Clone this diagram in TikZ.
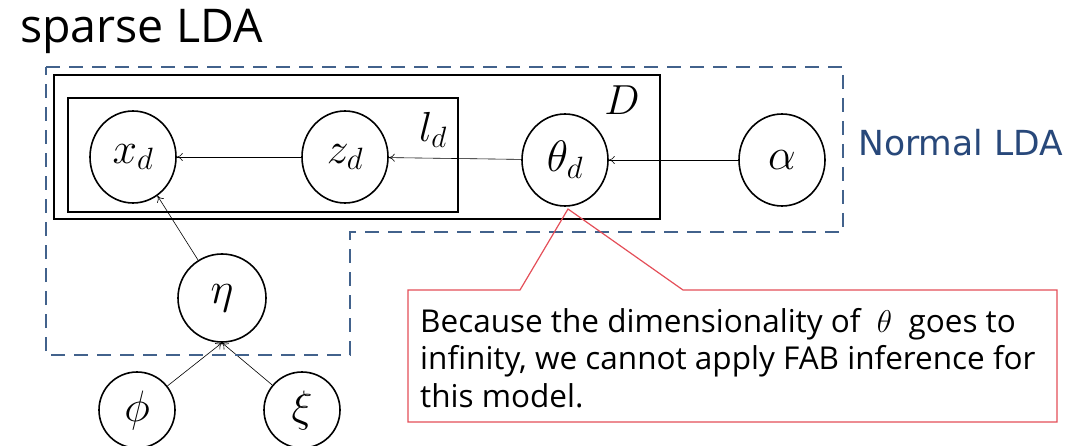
\RequirePackage{fix-cm}
\documentclass[tikz,border=0pt]{standalone}
\usepackage{fontspec}
\usepackage{amsmath}
\newfontfamily\titlefont{Open Sans}
\newfontfamily\notefont{Open Sans}
\newfontfamily\regionfont{DejaVu Sans}
\usepackage{tikz}
\usetikzlibrary{arrows.meta,shapes.geometric}
\definecolor{ldablue}{RGB}{66,98,140}
\definecolor{ldatext}{RGB}{40,72,122}
\definecolor{notered}{RGB}{228,78,88}
\tikzset{
  var/.style={draw,ellipse,line width=1.6pt,minimum width=86pt,minimum height=92pt,inner sep=0pt,font=\fontsize{44}{52}\selectfont},
  smallvar/.style={var,minimum width=76pt,minimum height=76pt},
  plate/.style={draw,line width=1.8pt},
  edge/.style={->,line width=0.6pt},
  normalbox/.style={draw=ldablue,line width=2.6pt,dash pattern=on 14pt off 9pt},
}

\begin{document}
\begin{tikzpicture}[x=1pt,y=-1pt,>={To[length=6pt,width=8pt]}]
        \useasboundingbox (0,0) rectangle (1083,446);
        \node[anchor=base west,inner sep=0pt,font=\titlefont\fontsize{46.5}{54}\selectfont] (title) at (20,43) {sparse LDA};
        % plates
        \draw[plate] (54,75) rectangle (660,219);
        \draw[plate] (68,98) rectangle (458,212);
        \node[font=\fontsize{42}{50}\selectfont] (D) at (622,100) {$D$};
        \node[font=\fontsize{42}{50}\selectfont] (ld) at (433,130) {$l_d$};
        % variables
        \node[var] (xd) at (133,157) {$x_d$};
        \node[var] (zd) at (345,157) {$z_d$};
        \node[var] (thetad) at (565,160) {$\theta_d$};
        \node[var] (alpha) at (782,160) {$\alpha$};
        \node[var,minimum width=88pt,minimum height=88pt] (eta) at (222,298) {$\eta$};
        \node[smallvar] (phi) at (137,410) {$\phi$};
        \node[smallvar] (xi) at (302,410) {$\xi$};
        \draw[edge] (zd) -- (xd);
        \draw[edge] (thetad) -- (zd);
        \draw[edge] (alpha) -- (thetad);
        \draw[edge] (eta) -- (xd);
        \draw[edge] (phi) -- (eta.south);
        \draw[edge] (xi) -- (eta.south);
        % normal LDA region
        \draw[normalbox] (46,67) -- (843,67) -- (843,232) -- (350,232) -- (350,355) -- (46,355) -- cycle;
        \node[anchor=west,inner sep=0pt,text=ldatext,font=\regionfont\fontsize{34.5}{40}\selectfont] (normal) at (858,143) {Normal LDA};
        % callout
        \node[anchor=base west,inner sep=0pt,align=left,font=\notefont\fontsize{31.5}{37.5}\selectfont] (note) at (420,407)
          {Because the dimensionality of \ $\theta$ \ goes to\\infinity, we cannot apply FAB inference for\\this model.};
        \coordinate (tip) at (568,209);
        \draw[notered,line width=1.2pt] (520,290) -- (408,290) -- (408,422) -- (1057,422) -- (1057,290) -- (683,290) -- (tip) -- cycle;
\end{tikzpicture}
\end{document}
